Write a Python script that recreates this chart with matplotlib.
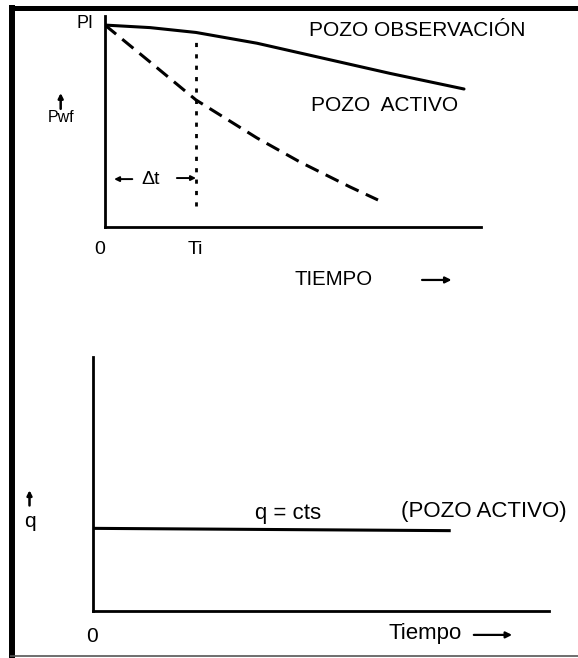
import matplotlib
matplotlib.use("Agg")
import matplotlib.pyplot as plt
from matplotlib.lines import Line2D

plt.rcParams['font.family'] = ['Liberation Sans', 'DejaVu Sans']

# ---- data (top panel: Pwf vs tiempo, time in units of Ti) ----
obs_time = [0.0, 0.495, 1.0, 1.670, 2.396, 3.132, 3.945]
obs_pwf = [0.957, 0.945, 0.922, 0.871, 0.800, 0.728, 0.654]
act_time = [0.0, 0.495, 1.0, 1.670, 2.143, 2.692, 3.0]
act_pwf = [0.957, 0.782, 0.602, 0.422, 0.308, 0.190, 0.128]
ti_value = 1.0
ti_pwf_range = [0.0995, 0.896]
x_tick_labels = ["0", "Ti"]

# ---- data (bottom panel: q vs tiempo) ----
q_time = [0.0, 0.781]
q_value = [0.325, 0.316]

W, H = 578, 658
fig = plt.figure(figsize=(W / 100, H / 100), dpi=100)
fig.patch.set_facecolor('white')

def fx(px):
    return px / W

def fy(py):
    return 1 - py / H

# frame
fig.add_artist(Line2D([fx(10), fx(578)], [fy(7.5), fy(7.5)], transform=fig.transFigure,
                      color='black', lw=3.6, solid_capstyle='butt'))
fig.add_artist(Line2D([fx(12), fx(12)], [fy(5), fy(658)], transform=fig.transFigure,
                      color='black', lw=4.3, solid_capstyle='butt'))
fig.add_artist(Line2D([fx(10), fx(578)], [fy(656), fy(656)], transform=fig.transFigure,
                      color='#555555', lw=1.2, solid_capstyle='butt'))

def style_axes(ax):
    for s in ['top', 'right']:
        ax.spines[s].set_visible(False)
    for s in ['left', 'bottom']:
        ax.spines[s].set_linewidth(2.0)
        ax.spines[s].set_color('black')
        ax.spines[s].set_capstyle('projecting')
    ax.set_xticks([])
    ax.set_yticks([])
    ax.patch.set_alpha(0)

fs = 15

def arrow(ax, start, end, lw=1.6, ms=9):
    ax.annotate('', xy=end, xytext=start, xycoords='data',
                arrowprops=dict(arrowstyle='-|>', color='black', lw=lw,
                                mutation_scale=ms, shrinkA=0, shrinkB=0),
                annotation_clip=False)

# ---- top axes ----
ax1 = fig.add_axes([fx(105), fy(227), fx(481) - fx(105), fy(16) - fy(227)])
style_axes(ax1)
ax1.set_xlim(0, 376 / 91)
ax1.set_ylim(0, 1)
ax1.plot(obs_time, obs_pwf, color='black', lw=2.2, solid_capstyle='round',
         solid_joinstyle='round')
ax1.plot(act_time, act_pwf, color='black', lw=2.2, linestyle=(0, (4.7, 2.6)))
ax1.plot([ti_value, ti_value], ti_pwf_range, color='black', lw=2.0, linestyle=(0, (1.5, 2.6)))

ax1.text(-0.22, 0.964, "PI", ha='center', va='center', fontsize=13)
arrow(ax1, (-0.487, 0.56), (-0.487, 0.635), lw=1.8, ms=7)
ax1.text(-0.484, 0.517, "Pwf", ha='center', va='center', fontsize=11.5)
ax1.text(3.434, 0.929, "POZO OBSERVACIÓN", ha='center', va='center', fontsize=fs)
ax1.text(3.071, 0.578, "POZO  ACTIVO", ha='center', va='center', fontsize=fs)
arrow(ax1, (0.30, 0.227), (0.10, 0.227), lw=1.4, ms=7)
ax1.text(0.505, 0.223, "Δt", ha='center', va='center', fontsize=14)
arrow(ax1, (0.79, 0.232), (ti_value, 0.232), lw=1.4, ms=7)
ax1.text(-0.055, -0.109, x_tick_labels[0], ha='center', va='center', fontsize=14)
ax1.text(0.989, -0.109, x_tick_labels[1], ha='center', va='center', fontsize=14)
ax1.text(2.511, -0.251, "TIEMPO", ha='center', va='center', fontsize=14.7)
arrow(ax1, (3.484, -0.251), (3.808, -0.251))

# ---- bottom axes ----
ax2 = fig.add_axes([fx(93.3), fy(611), fx(549) - fx(93.3), fy(356.7) - fy(611)])
style_axes(ax2)
ax2.set_xlim(0, 1)
ax2.set_ylim(0, 1)
ax2.plot(q_time, q_value, color='black', lw=2.2)

arrow(ax2, (-0.140, 0.415), (-0.140, 0.475), lw=1.8, ms=7)
ax2.text(-0.140, 0.351, "q", ha='center', va='center', fontsize=15)
ax2.text(0.428, 0.384, "q = cts", ha='center', va='center', fontsize=16)
ax2.text(0.857, 0.390, "(POZO ACTIVO)", ha='center', va='center', fontsize=16)
ax2.text(-0.003, -0.101, "0", ha='center', va='center', fontsize=15)
ax2.text(0.728, -0.088, "Tiempo", ha='center', va='center', fontsize=16)
arrow(ax2, (0.835, -0.094), (0.919, -0.094))

fig.savefig("out.png", dpi=100, facecolor='white')
